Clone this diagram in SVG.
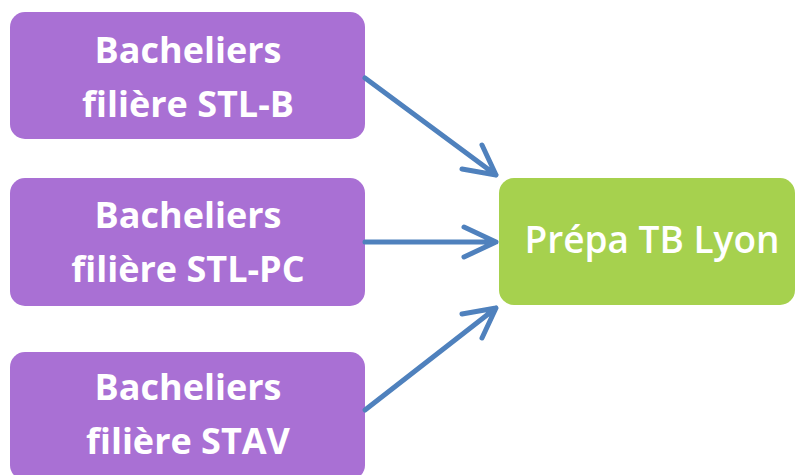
<svg xmlns="http://www.w3.org/2000/svg" width="796" height="475" viewBox="0 0 796 475">
<style>
.src{fill:#A970D4}
.dst{fill:#A6D14E}
.t{font-family:"Open Sans","Liberation Sans",sans-serif;font-weight:bold;font-size:36px;fill:#FFFFFF;text-anchor:middle}
.t2{font-family:"Open Sans","Liberation Sans",sans-serif;font-weight:600;font-size:37px;fill:#FFFFFF;text-anchor:middle}
.c{fill:none;stroke:#4F81BD;stroke-width:5;stroke-linecap:round;stroke-linejoin:round}
</style>
<rect width="796" height="475" fill="#FFFFFF"/>
<g id="n1"><rect class="src" x="10" y="12" width="355" height="127" rx="15"/><text class="t" x="188" y="63">Bacheliers</text><text class="t" x="188" y="117">filière STL-B</text></g>
<g id="n2"><rect class="src" x="10" y="178" width="355" height="128" rx="15"/><text class="t" x="188" y="228">Bacheliers</text><text class="t" x="188" y="282">filière STL-PC</text></g>
<g id="n3"><rect class="src" x="10" y="352" width="355" height="128" rx="15"/><text class="t" x="188" y="400">Bacheliers</text><text class="t" x="188" y="454">filière STAV</text></g>
<g id="n4"><rect class="dst" x="499" y="178" width="296" height="127" rx="15"/><text class="t2" x="652" y="253">Prépa TB Lyon</text></g>
<g id="connectors">
<path class="c" d="M365 78 L496 175 M462 169 L496 175 L482 145"/>
<path class="c" d="M365 242 L496 242 M464 227 L496 242 L464 257"/>
<path class="c" d="M365 410 L496 308 M462 314 L496 308 L482 338"/>
</g>
</svg>
